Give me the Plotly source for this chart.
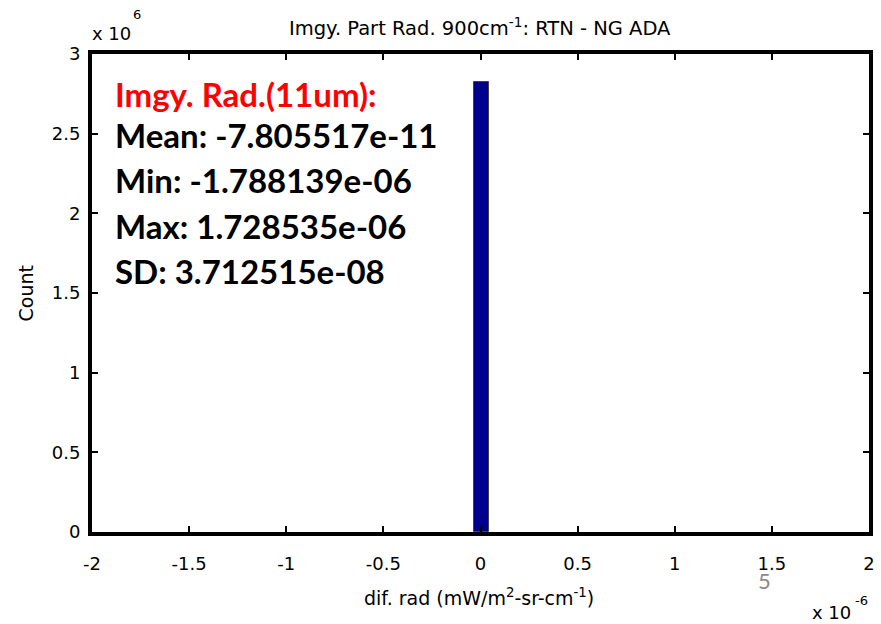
import plotly.graph_objects as go

# Data (x in units of 1e-6, y in counts)
bin_centers = [0.006]
bin_counts = [2.824e6]
bin_width = 0.077

x_ticks = [-2, -1.5, -1, -0.5, 0, 0.5, 1, 1.5, 2]
x_ticktext = ["-2", "-1.5", "-1", "-0.5", "0", "0.5", "1", "1.5", "2"]
y_ticks = [0, 0.5e6, 1e6, 1.5e6, 2e6, 2.5e6, 3e6]
y_ticktext = ["0", "0.5", "1", "1.5", "2", "2.5", "3"]

stats_title = "Imgy. Rad.(11um):"
stats_lines = ["Mean: -7.805517e-11", "Min: -1.788139e-06", "Max: 1.728535e-06", "SD: 3.712515e-08"]

W, H = 881, 624
L, R, T, B = 92, 6, 54, 92
PW, PH = W - L - R, H - T - B

def px(x):
    return (x - L) / PW

def py(y):
    return (H - B - y) / PH

fig = go.Figure()
fig.add_trace(go.Bar(
    x=bin_centers, y=bin_counts, width=bin_width,
    marker=dict(color="#00008F", line=dict(color="#444444", width=1)),
    showlegend=False, hoverinfo="skip",
))

font_main = "DejaVu Sans, sans-serif"
axis_common = dict(
    showline=True, linewidth=4, linecolor="black", mirror="ticks",
    ticks="inside", ticklen=6, tickwidth=2, tickcolor="black",
    showgrid=False, zeroline=False,
    tickfont=dict(family=font_main, size=18, color="black"),
)
fig.update_xaxes(range=[-2, 2], tickvals=x_ticks, ticktext=x_ticktext,
                 ticklabelstandoff=12, **axis_common)
fig.update_yaxes(range=[0, 3e6], tickvals=y_ticks, ticktext=y_ticktext,
                 ticklabelstandoff=4, **axis_common)

def ann(text, x, y, size, xanchor="left", color="black", family=font_main, **kw):
    return dict(text=text, x=px(x), y=py(y), xref="paper", yref="paper",
                xanchor=xanchor, yanchor="middle", showarrow=False,
                font=dict(family=family, size=size, color=color), **kw)

anns = []
anns.append(ann("Imgy. Part Rad. 900cm<sup>-1</sup>: RTN - NG ADA", 483, 27, 19.5, xanchor="center"))
anns.append(ann("x 10", 90, 33, 18))
anns.append(ann("6", 137, 15, 13, xanchor="center"))
anns.append(ann("x 10", 816, 612, 18))
anns.append(ann("-6", 867, 600, 13, xanchor="center"))
anns.append(ann("dif. rad (mW/m<sup>2</sup>-sr-cm<sup>-1</sup>)", 482, 597, 19, xanchor="center"))
anns.append(ann("Count", 25, 294, 19, xanchor="center", textangle=-90))
anns.append(ann("5", 770, 580, 22, xanchor="center", color="#8a8a8a", family="Lato, sans-serif"))

stat_font = "Lato, Open Sans, sans-serif"
anns.append(ann("<b>" + stats_title + "</b>", 113, 94, 33, color="#FF0000", family=stat_font))
ys = [135, 180, 226, 271]
for yv, line in zip(ys, stats_lines):
    anns.append(ann("<b>" + line + "</b>", 113, yv, 33, family=stat_font))

fig.update_layout(
    width=W, height=H, margin=dict(l=L, r=R, t=T, b=B, pad=0),
    plot_bgcolor="white", paper_bgcolor="white",
    annotations=anns, bargap=0,
)
fig.write_html("out.html")
